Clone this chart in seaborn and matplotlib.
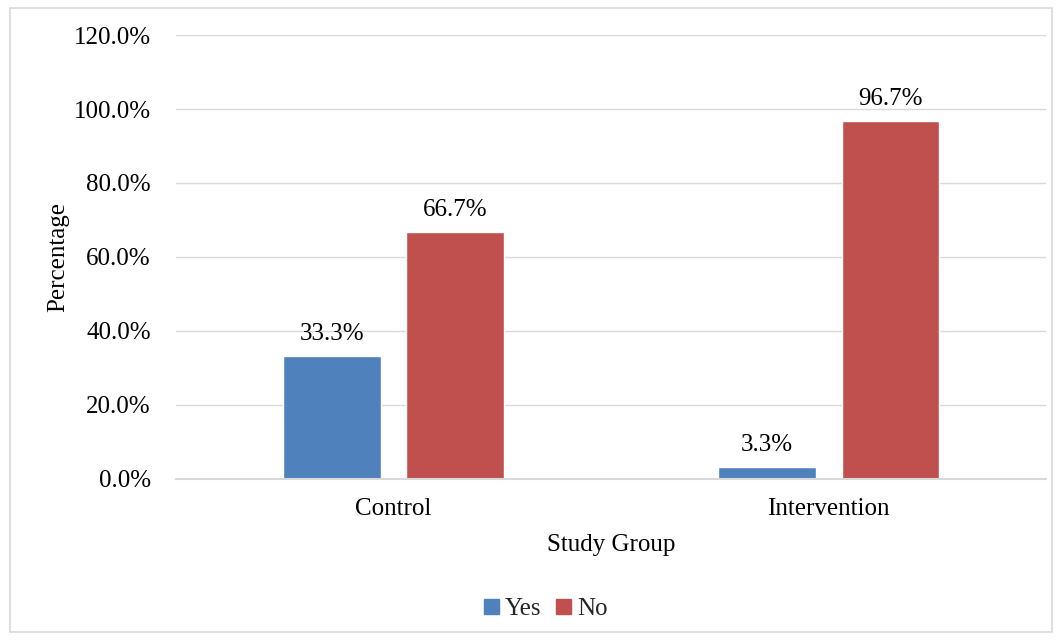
import matplotlib
matplotlib.use("Agg")
import matplotlib.pyplot as plt
import matplotlib.patches as mpatches
import seaborn as sns
import pandas as pd

groups = ["Control", "Intervention"]
responses = ["Yes", "No"]
yes_pct = [33.3, 3.3]
no_pct = [66.7, 96.7]
y_ticks = [0, 20, 40, 60, 80, 100, 120]
colors = {"Yes": "#4F81BD", "No": "#C0504D"}

df = pd.DataFrame({
    "Study Group": groups * 2,
    "Response": ["Yes"] * len(groups) + ["No"] * len(groups),
    "Percentage": yes_pct + no_pct,
})

sns.set_theme(style="white")
plt.rcParams["font.family"] = ["Liberation Serif", "DejaVu Serif"]
FS = 18

fig = plt.figure(figsize=(10.62, 6.40), dpi=100)
ax = fig.add_axes([0.1657, 0.2516, 0.8193, 0.6937])

sns.barplot(data=df, x="Study Group", y="Percentage", hue="Response",
            hue_order=responses, order=groups, palette=colors,
            width=0.568, gap=0.21, ax=ax, legend=False, saturation=1)

for cont in ax.containers:
    ax.bar_label(cont, labels=[f"{v:.1f}%" for v in cont.datavalues],
                 padding=8, fontsize=FS, color="#000000")

ax.set_ylim(0, 120)
ax.set_xlim(-0.5, 1.5)
ax.set_yticks(y_ticks)
ax.set_yticklabels([f"{t:.1f}%" for t in y_ticks], fontsize=FS, color="#000000")
ax.tick_params(axis="x", labelsize=FS, colors="#000000", length=0, pad=14)
ax.tick_params(axis="y", length=0, pad=18)
ax.yaxis.grid(True, color="#D9D9D9", linewidth=1)
ax.set_axisbelow(True)
for side in ["top", "right", "left"]:
    ax.spines[side].set_visible(False)
ax.spines["bottom"].set_color("#D9D9D9")
ax.spines["bottom"].set_linewidth(1.5)

ax.set_xlabel("Study Group", fontsize=FS, color="#000000", labelpad=10)
ax.set_ylabel("Percentage", fontsize=FS, color="#000000", labelpad=3)

handles = [mpatches.Patch(color=colors[r], label=r) for r in responses]
fig.legend(handles=handles, loc="center", bbox_to_anchor=(0.514, 0.048),
           ncol=2, frameon=False, fontsize=FS, handlelength=0.6,
           handleheight=0.6, handletextpad=0.25, columnspacing=0.6)

fig.patches.append(mpatches.Rectangle((0.009, 0.012), 0.982, 0.976,
                                      transform=fig.transFigure, fill=False,
                                      edgecolor="#D9D9D9", linewidth=1.2))

fig.savefig("out.png", dpi=100, facecolor="white")
